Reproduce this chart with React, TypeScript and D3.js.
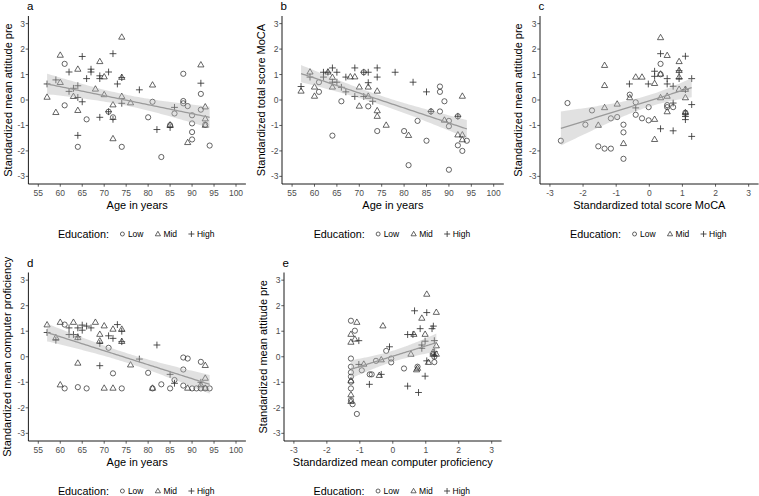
import React from "react";
import * as d3 from "d3";

type P = [number, number];

// ---------- DATA ----------
const ageTicks = [55, 60, 65, 70, 75, 80, 85, 90, 95, 100];
const stdTicks = [-3, -2, -1, 0, 1, 2, 3];
const legendLabels = ["Low", "Mid", "High"];

// Panel a: Age vs attitude pre
const aLow: P[] = [[61,1.42],[61,-0.21],[64,-1.84],[66,-0.76],[71,-0.46],[72,-0.68],[74,-1.84],[80,-0.68],[81,-0.07],[83,-2.24],[85,-0.99],[86,-0.53],[88,1.03],[88,-0.04],[88,-0.13],[89,-0.24],[90,-0.6],[90,-0.92],[90,-1.26],[90,-1.55],[92,0.24],[92,-0.38],[93,-0.97],[94,-1.79]];
const aMid: P[] = [[57,0.1],[59,-0.5],[60,1.75],[60,0.68],[63,0.13],[64,1.2],[64,-0.42],[68,0.42],[69,1.5],[70,0.9],[70,0.2],[72,-0.2],[72,-1.53],[74,2.46],[74,0.13],[74,0.88],[76,-0.12],[81,0.58],[85,-0.99],[89,-1.68],[92,1.37],[93,-0.28],[93,-0.75],[93,-1.0]];
const aHigh: P[] = [[57,0.63],[59,0.79],[62,1.1],[62,0.34],[63,0.46],[64,0.56],[64,0.1],[64,-1.39],[65,1.71],[65,-0.07],[66,0.84],[67,1.21],[67,1.1],[69,0.95],[69,0.84],[69,-0.68],[71,-0.46],[71,1.1],[72,1.82],[72,-0.76],[73,0.63],[74,0.88],[74,-0.13],[78,0.4],[82,-1.16],[85,-1.08],[86,-0.29],[92,0.66]];

// Panel b: Age vs MoCA
const bLow: P[] = [[61,0.7],[61,0.32],[64,-1.4],[66,-0.05],[71,1.09],[72,-0.25],[74,-1.22],[80,-1.22],[81,-2.56],[83,-0.82],[85,-1.6],[86,-0.45],[88,0.53],[88,0.32],[88,-0.45],[89,-0.05],[90,-0.82],[90,-1.03],[90,-2.74],[92,-0.64],[92,-1.78],[93,-2.0],[94,-1.6]];
const bMid: P[] = [[57,0.34],[59,1.09],[60,0.5],[60,0.14],[63,1.09],[64,0.88],[64,0.5],[68,0.9],[69,0.9],[70,0.5],[70,-0.25],[72,0.5],[72,0.14],[74,0.34],[74,-0.43],[74,-0.65],[76,-1.0],[81,-1.4],[89,-0.8],[92,-1.38],[93,0.14],[93,-1.38],[93,-1.57]];
const bHigh: P[] = [[57,0.53],[59,0.9],[62,0.9],[62,1.09],[63,1.09],[64,1.26],[64,0.7],[65,1.09],[65,0.7],[66,0.5],[67,0.9],[67,0.32],[69,1.26],[69,0.14],[71,1.09],[71,0.14],[72,1.09],[72,0.68],[73,-0.05],[74,1.26],[74,0.9],[78,1.09],[82,0.7],[85,0.32],[86,-0.45],[92,-0.64]];

// Panel c: MoCA vs attitude pre
const cLow: P[] = [[-2.67,-1.6],[-2.47,-0.12],[-1.93,-0.97],[-1.73,-0.41],[-1.54,-1.82],[-1.35,-1.91],[-1.16,-1.91],[-1.16,-0.72],[-0.97,-0.67],[-0.78,-0.97],[-0.78,-1.27],[-0.78,-2.31],[-0.59,0.21],[-0.41,-0.09],[-0.41,-0.58],[-0.22,-0.72],[-0.02,-0.28],[-0.02,-0.8],[0.34,1.42],[0.34,1.01],[0.54,-0.28],[0.54,-0.2],[0.72,-0.28],[1.09,-0.5]];
const cMid: P[] = [[-1.35,1.35],[-1.35,0.56],[-1.35,-0.31],[-1.54,-1.0],[-0.97,-0.17],[-0.59,0.08],[-0.41,0.89],[-0.22,0.89],[-0.78,-1.72],[0.16,0.64],[0.16,-0.77],[0.16,-1.56],[0.34,2.44],[0.34,1.01],[0.34,0.08],[0.54,1.74],[0.54,0.14],[0.54,-0.47],[0.9,1.5],[0.9,0.41],[0.9,0.89],[0.9,1.15],[1.09,0.08],[1.09,-0.51],[1.09,0.41]];
const cHigh: P[] = [[-0.6,0.63],[-0.41,-0.31],[-0.03,0.63],[0.16,1.13],[0.16,0.93],[0.34,1.82],[0.34,-1.13],[0.54,0.84],[0.54,0.63],[0.72,0.54],[0.72,-0.12],[0.72,-1.21],[0.9,1.15],[0.9,0.84],[1.09,1.72],[1.09,0.41],[1.09,-0.54],[1.09,-0.77],[1.09,-0.65],[1.28,0.84],[1.28,-0.18],[1.28,-1.43]];

// Panel d: Age vs computer proficiency
const dLow: P[] = [[61,1.26],[61,-1.24],[64,-1.19],[66,-1.24],[71,0.35],[72,-0.65],[74,-1.24],[80,-0.63],[81,-1.24],[83,-1.08],[85,-1.24],[86,-0.91],[88,-0.03],[88,-0.5],[88,-1.13],[89,-0.07],[90,-1.24],[91,-1.24],[92,-0.2],[92,-1.24],[93,-1.24],[94,-1.24]];
const dMid: P[] = [[57,1.24],[59,0.74],[60,1.34],[60,-1.11],[63,1.34],[64,0.74],[64,-0.26],[68,1.34],[69,0.87],[69,0.61],[70,1.2],[70,-1.24],[72,1.07],[72,-1.24],[74,1.07],[74,0.59],[76,-0.33],[81,-1.24],[89,-1.24],[92,-1.11],[93,-0.35],[93,-0.85],[93,-1.24]];
const dHigh: P[] = [[57,0.95],[59,0.65],[62,1.13],[62,0.87],[63,0.87],[64,1.13],[64,0.78],[65,1.24],[65,1.04],[66,1.2],[67,1.13],[69,0.52],[69,-0.35],[71,0.82],[72,0.72],[73,1.26],[74,1.0],[74,0.59],[78,-0.09],[82,0.46],[85,-0.69],[86,-1.04],[92,-1.0]];

// Panel e: computer proficiency vs attitude pre
const eLow: P[] = [[-1.27,1.41],[-1.27,-0.07],[-1.27,-0.39],[-1.27,-0.61],[-1.27,-0.78],[-1.27,-0.98],[-1.27,-1.24],[-1.27,-1.7],[-1.22,-1.86],[-1.15,1.02],[-1.09,-2.24],[-0.94,-0.53],[-0.7,-0.69],[-0.64,-0.69],[-0.51,-0.16],[-0.2,0.23],[-0.05,-0.07],[-0.05,-0.22],[0.34,-0.46],[0.75,-0.39],[1.26,-0.21],[1.26,0.0]];
const eMid: P[] = [[-1.09,1.34],[-1.27,0.87],[-1.27,0.56],[-1.15,0.68],[-1.27,-0.95],[-1.27,-1.5],[-1.27,-1.76],[-0.88,-0.3],[-0.3,1.2],[-0.35,-0.13],[-0.41,-0.74],[0.55,0.09],[0.75,-0.46],[0.72,-0.52],[0.88,1.5],[0.98,0.87],[1.03,2.44],[1.32,1.73],[1.32,0.42],[1.22,0.17],[1.32,0.09],[1.22,0.09],[1.08,-0.23],[0.64,0.87]];
const eHigh: P[] = [[-1.03,0.63],[-1.03,-0.3],[-0.71,-1.08],[-0.35,-0.69],[-0.1,0.39],[0.45,0.87],[0.45,-1.15],[0.66,1.8],[0.61,0.87],[0.78,-1.4],[0.83,1.1],[0.88,0.46],[0.88,0.33],[0.98,0.61],[0.98,-0.76],[1.03,-0.16],[1.03,1.73],[1.19,1.1],[1.23,1.2],[1.26,0.63],[1.26,0.2],[1.26,0.04]];

// ---------- LAYOUT ----------
const FONT = "'Liberation Sans', Arial, Helvetica, sans-serif";
const INK = "#333333";

interface PanelCfg {
  label: string;
  low: P[]; mid: P[]; high: P[];
  xDom: [number, number];
  xTicks: number[];
  xRange: [number, number];
  yRange: [number, number]; // [bottom, top]
  xTitle: string;
  yTitle: string;
  yTitleX: number;
}

const TOP: [number, number] = [184, 16];
const BOT: [number, number] = [441, 272.5];

const panels: PanelCfg[] = [
  { label: "a", low: aLow, mid: aMid, high: aHigh, xDom: [55, 100], xTicks: ageTicks, xRange: [28.4, 245.9], yRange: TOP, xTitle: "Age in years", yTitle: "Standardized mean attitude pre", yTitleX: 11.7 },
  { label: "b", low: bLow, mid: bMid, high: bHigh, xDom: [55, 100], xTicks: ageTicks, xRange: [282, 503.8], yRange: TOP, xTitle: "Age in years", yTitle: "Standardized total score MoCA", yTitleX: 265.3 },
  { label: "c", low: cLow, mid: cMid, high: cHigh, xDom: [-3, 3], xTicks: stdTicks, xRange: [540, 758.6], yRange: TOP, xTitle: "Standardized total score MoCA", yTitle: "Standardized mean attitude pre", yTitleX: 521.5 },
  { label: "d", low: dLow, mid: dMid, high: dHigh, xDom: [55, 100], xTicks: ageTicks, xRange: [28.4, 245.9], yRange: BOT, xTitle: "Age in years", yTitle: "Standardized mean computer proficiency", yTitleX: 11 },
  { label: "e", low: eLow, mid: eMid, high: eHigh, xDom: [-3, 3], xTicks: stdTicks, xRange: [284, 501.6], yRange: BOT, xTitle: "Standardized mean computer proficiency", yTitle: "Standardized mean attitude pre", yTitleX: 266.5 },
];

function expand(d: [number, number]): [number, number] {
  const r = d[1] - d[0];
  return [d[0] - 0.05 * r, d[1] + 0.05 * r];
}

function fit(pts: P[]) {
  const n = pts.length;
  const mx = d3.mean(pts, (p) => p[0])!;
  const my = d3.mean(pts, (p) => p[1])!;
  let sxx = 0, sxy = 0;
  pts.forEach((p) => { sxx += (p[0] - mx) ** 2; sxy += (p[0] - mx) * (p[1] - my); });
  const b = sxy / sxx;
  const a = my - b * mx;
  let sse = 0;
  pts.forEach((p) => { sse += (p[1] - a - b * p[0]) ** 2; });
  const s = Math.sqrt(sse / (n - 2));
  const t = 1.993;
  const [x0, x1] = d3.extent(pts, (p) => p[0]) as [number, number];
  const xs = d3.range(0, 81).map((i) => x0 + ((x1 - x0) * i) / 80);
  return xs.map((x) => {
    const yhat = a + b * x;
    const se = s * Math.sqrt(1 / n + (x - mx) ** 2 / sxx);
    return { x, y: yhat, lo: yhat - t * se, hi: yhat + t * se };
  });
}

const Circle = ({ x, y, r = 2.6 }: { x: number; y: number; r?: number }) => (
  <circle cx={x} cy={y} r={r} fill="none" stroke={INK} strokeWidth={0.75} />
);
const Tri = ({ x, y, s = 6.2 }: { x: number; y: number; s?: number }) => {
  const h = (s * Math.sqrt(3)) / 2;
  return (
    <path
      d={`M${x},${y - (2 * h) / 3}L${x + s / 2},${y + h / 3}L${x - s / 2},${y + h / 3}Z`}
      fill="none" stroke={INK} strokeWidth={0.75} strokeLinejoin="miter"
    />
  );
};
const Plus = ({ x, y, s = 3.4 }: { x: number; y: number; s?: number }) => (
  <path d={`M${x - s},${y}H${x + s}M${x},${y - s}V${y + s}`} stroke={INK} strokeWidth={0.85} fill="none" />
);

function Panel({ cfg }: { cfg: PanelCfg }) {
  const x = d3.scaleLinear().domain(expand(cfg.xDom)).range(cfg.xRange);
  const y = d3.scaleLinear().domain(expand([-3, 3])).range(cfg.yRange);
  const all = [...cfg.low, ...cfg.mid, ...cfg.high];
  const f = fit(all);
  const band = d3.area<any>().x((d) => x(d.x)).y0((d) => y(d.lo)).y1((d) => y(d.hi))(f)!;
  const line = d3.line<any>().x((d) => x(d.x)).y((d) => y(d.y))(f)!;
  const [left, right] = cfg.xRange;
  const [bottom, top] = cfg.yRange;
  const cx = (left + right) / 2;
  const cy = (bottom + top) / 2;

  // legend layout
  const wEdu = 50, wText = [15.5, 13.5, 19.5];
  const gapSym = 14.5, symToText = 5.5;
  const totalW = wEdu + 3 * (gapSym + symToText) + wText[0] + wText[1] + wText[2];
  const lx = cx - totalW / 2;
  const legY = bottom + 50;
  const items: { sx: number; tx: number; lab: string; k: number }[] = [];
  let cur = lx + wEdu;
  legendLabels.forEach((lab, k) => {
    const sx = cur + gapSym;
    const tx = sx + symToText;
    items.push({ sx, tx, lab, k });
    cur = tx + wText[k];
  });

  return (
    <g fontFamily={FONT}>
      {/* panel label */}
      <text x={left - 1.5} y={top - 5.8} fontSize={11.5} fill="#000">{cfg.label}</text>

      {/* points */}
      {cfg.low.map((p, i) => <Circle key={"l" + i} x={x(p[0])} y={y(p[1])} />)}
      {cfg.mid.map((p, i) => <Tri key={"m" + i} x={x(p[0])} y={y(p[1])} />)}
      {cfg.high.map((p, i) => <Plus key={"h" + i} x={x(p[0])} y={y(p[1])} />)}

      {/* smooth */}
      <path d={band} fill="#b3b3b3" fillOpacity={0.4} stroke="none" />
      <path d={line} fill="none" stroke="#9a9a9a" strokeWidth={1.3} />

      {/* axes */}
      <line x1={left} x2={right} y1={bottom} y2={bottom} stroke="#000" strokeWidth={0.9} />
      <line x1={left} x2={left} y1={top} y2={bottom} stroke="#000" strokeWidth={0.9} />
      {cfg.xTicks.map((t) => (
        <g key={"xt" + t}>
          <line x1={x(t)} x2={x(t)} y1={bottom} y2={bottom + 2.7} stroke={INK} strokeWidth={0.8} />
          <text x={x(t)} y={bottom + 11.8} fontSize={8.5} fill="#4d4d4d" textAnchor="middle">{t}</text>
        </g>
      ))}
      {stdTicks.map((t) => (
        <g key={"yt" + t}>
          <line x1={left - 2.7} x2={left} y1={y(t)} y2={y(t)} stroke={INK} strokeWidth={0.8} />
          <text x={left - 3.4} y={y(t) + 3} fontSize={8.5} fill="#4d4d4d" textAnchor="end">{t}</text>
        </g>
      ))}

      {/* axis titles */}
      <text x={cx} y={bottom + 25} fontSize={11} fill="#000" textAnchor="middle">{cfg.xTitle}</text>
      <text transform={`translate(${cfg.yTitleX},${cy}) rotate(-90)`} fontSize={11} fill="#000" textAnchor="middle">{cfg.yTitle}</text>

      {/* legend */}
      <text x={lx} y={legY + 3.9} fontSize={10.8} fill="#000">Education:</text>
      {items.map((it) => (
        <g key={it.lab}>
          {it.k === 0 && <Circle x={it.sx} y={legY} r={2} />}
          {it.k === 1 && <Tri x={it.sx} y={legY + 0.3} s={5.2} />}
          {it.k === 2 && <Plus x={it.sx} y={legY} s={3} />}
          <text x={it.tx} y={legY + 3} fontSize={8.5} fill="#000">{it.lab}</text>
        </g>
      ))}
    </g>
  );
}

export default function App() {
  return (
    <svg
      width={759}
      height={496}
      viewBox="0 0 759 496"
      style={{ position: "absolute", left: 0, top: 0, background: "#fff" }}
    >
      <rect width={759} height={496} fill="#fff" />
      {panels.map((p) => <Panel key={p.label} cfg={p} />)}
    </svg>
  );
}
